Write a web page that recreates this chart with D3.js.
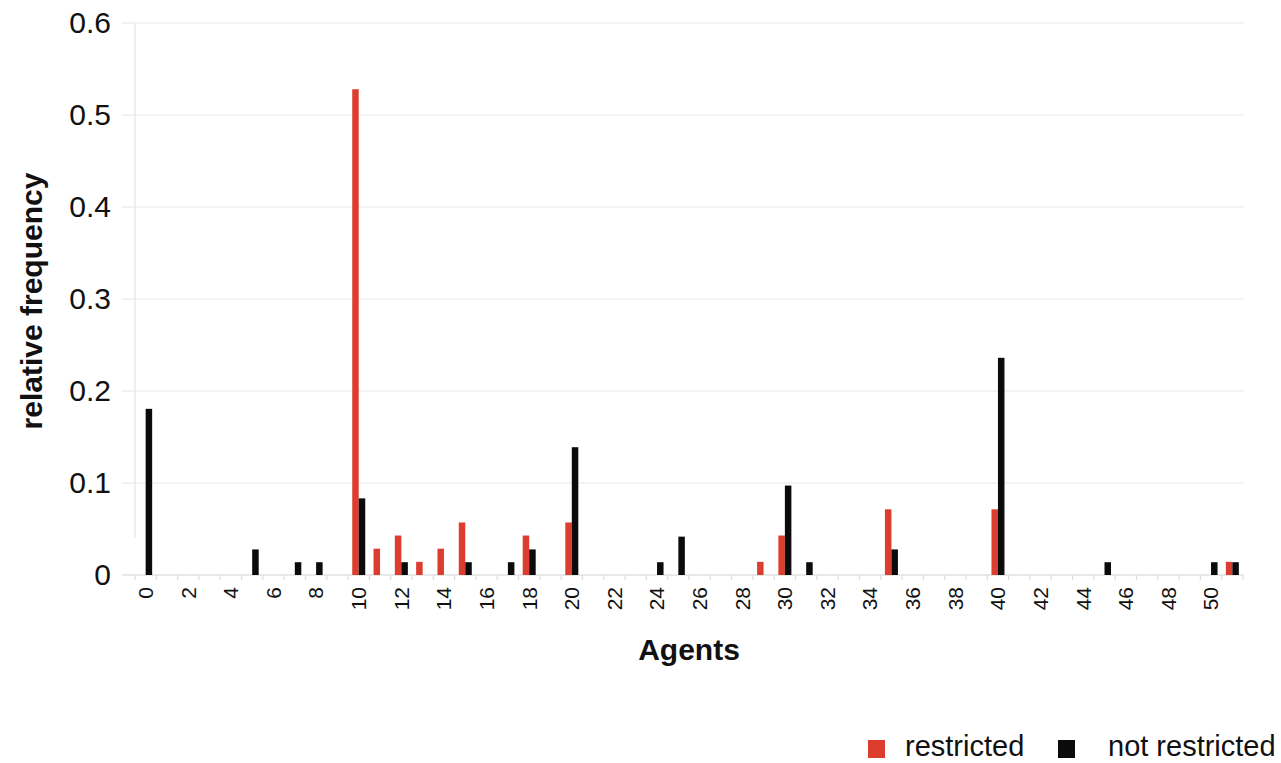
<!DOCTYPE html>
<html>
<head>
<meta charset="utf-8">
<script src="https://cdn.jsdelivr.net/npm/d3@7"></script>
<style>
  html, body { margin: 0; padding: 0; background: #fff; }
  svg { display: block; font-family: "Liberation Sans", Arial, sans-serif; }
</style>
</head>
<body>
<svg id="chart" width="1281" height="763"></svg>
<script>
// ---- data ----
const agents = d3.range(0, 52);                 // categories 0..51
const xTickLabels = d3.range(0, 51, 2);          // 0,2,...,50
const yTicks = [0, 0.1, 0.2, 0.3, 0.4, 0.5, 0.6];
const seriesNames = ["restricted", "not restricted"];
const seriesColors = ["#dc3d2d", "#0b0b0b"];

// relative frequency per agent count (non-zero entries)
const restrictedAgents = [10, 11, 12, 13, 14, 15, 18, 20, 29, 30, 35, 40, 51];
const restrictedValues = [0.528, 0.0286, 0.0429, 0.0143, 0.0286, 0.0571, 0.0429, 0.0571, 0.0143, 0.0429, 0.0714, 0.0714, 0.0143];
const notRestrictedAgents = [0, 5, 7, 8, 10, 12, 15, 17, 18, 20, 24, 25, 30, 31, 35, 40, 45, 50, 51];
const notRestrictedValues = [0.1806, 0.0278, 0.0139, 0.0139, 0.0833, 0.0139, 0.0139, 0.0139, 0.0278, 0.1389, 0.0139, 0.0417, 0.0972, 0.0139, 0.0278, 0.2361, 0.0139, 0.0139, 0.0139];

// ---- build table ----
const restrictedMap = new Map(restrictedAgents.map((a, i) => [a, restrictedValues[i]]));
const notRestrictedMap = new Map(notRestrictedAgents.map((a, i) => [a, notRestrictedValues[i]]));
const table = agents.map(a => ({
  agent: a,
  values: [
    { series: seriesNames[0], value: restrictedMap.get(a) || 0 },
    { series: seriesNames[1], value: notRestrictedMap.get(a) || 0 }
  ]
}));

// ---- layout ----
const svg = d3.select("#chart");
const plotLeft = 135, plotRight = 1243, plotTop = 23, plotBottom = 575;

const x = d3.scaleBand().domain(agents).range([plotLeft, plotRight]).paddingInner(0).paddingOuter(0);
const bw = x.bandwidth();
const xs = d3.scaleBand().domain(seriesNames).range([bw / 2 - 6.5, bw / 2 + 6.5]);
const y = d3.scaleLinear().domain([0, 0.6]).range([plotBottom, plotTop]);
const color = d3.scaleOrdinal().domain(seriesNames).range(seriesColors);

// gridlines
svg.append("g")
  .selectAll("line")
  .data(yTicks.filter(t => t > 0))
  .join("line")
  .attr("x1", 122).attr("x2", 1244)
  .attr("y1", d => y(d)).attr("y2", d => y(d))
  .attr("stroke", "#efefef").attr("stroke-width", 1.5);

// faint left axis line
svg.append("line")
  .attr("x1", plotLeft).attr("x2", plotLeft)
  .attr("y1", plotTop).attr("y2", 538)
  .attr("stroke", "#eaeaea").attr("stroke-width", 1.5);

// y axis labels
const yAxis = d3.axisLeft(y).tickValues(yTicks).tickSize(0).tickPadding(0)
  .tickFormat(d => d === 0 ? "0" : d3.format(".1f")(d));
const gy = svg.append("g").attr("transform", "translate(111,0)").call(yAxis);
gy.select(".domain").remove();
gy.selectAll("text")
  .attr("font-size", 30)
  .attr("fill", "#111")
  .attr("font-family", "'Liberation Sans', Arial, sans-serif");

// baseline
svg.append("line")
  .attr("x1", 122).attr("x2", 1244)
  .attr("y1", plotBottom).attr("y2", plotBottom)
  .attr("stroke", "#e2e2e2").attr("stroke-width", 1.5);

// category boundary ticks
svg.append("g")
  .selectAll("line")
  .data(agents.concat([52]))
  .join("line")
  .attr("x1", d => d < 52 ? x(d) : x(51) + bw)
  .attr("x2", d => d < 52 ? x(d) : x(51) + bw)
  .attr("y1", plotBottom).attr("y2", plotBottom + 5)
  .attr("stroke", "#dddddd").attr("stroke-width", 1.2);

// bars
const groups = svg.append("g")
  .selectAll("g")
  .data(table)
  .join("g")
  .attr("transform", d => `translate(${x(d.agent)},0)`);

groups.selectAll("rect")
  .data(d => d.values.filter(v => v.value > 0))
  .join("rect")
  .attr("x", d => xs(d.series))
  .attr("width", xs.bandwidth())
  .attr("y", d => y(d.value))
  .attr("height", d => y(0) - y(d.value))
  .attr("fill", d => color(d.series));

// x tick labels (rotated)
const xAxis = d3.axisBottom(x).tickValues(xTickLabels).tickSize(0).tickPadding(0);
const gx = svg.append("g").attr("transform", `translate(0,${plotBottom})`).call(xAxis);
gx.select(".domain").remove();
gx.selectAll("text")
  .attr("font-size", 21)
  .attr("fill", "#111")
  .attr("font-family", "'Liberation Sans', Arial, sans-serif")
  .attr("text-anchor", "end")
  .attr("dy", "0.35em")
  .attr("transform", "translate(0,12) rotate(-90)")
  .attr("y", 0)
  .attr("x", 0);

// axis titles
svg.append("text")
  .attr("x", (plotLeft + plotRight) / 2)
  .attr("y", 660)
  .attr("text-anchor", "middle")
  .attr("font-size", 30)
  .attr("font-weight", "bold")
  .attr("fill", "#111")
  .text("Agents");

svg.append("text")
  .attr("transform", `translate(42,${(plotTop + plotBottom) / 2 + 2}) rotate(-90)`)
  .attr("text-anchor", "middle")
  .attr("font-size", 30)
  .attr("font-weight", "bold")
  .attr("fill", "#111")
  .text("relative frequency");

// legend
const legendItems = [
  { name: seriesNames[0], rx: 868, tx: 905 },
  { name: seriesNames[1], rx: 1058, tx: 1108 }
];
const lg = svg.append("g");
lg.selectAll("rect")
  .data(legendItems)
  .join("rect")
  .attr("x", d => d.rx).attr("y", 740)
  .attr("width", 17).attr("height", 18)
  .attr("fill", d => color(d.name));
lg.selectAll("text")
  .data(legendItems)
  .join("text")
  .attr("x", d => d.tx).attr("y", 756)
  .attr("font-size", 29)
  .attr("fill", "#111")
  .text(d => d.name);
</script>
</body>
</html>
